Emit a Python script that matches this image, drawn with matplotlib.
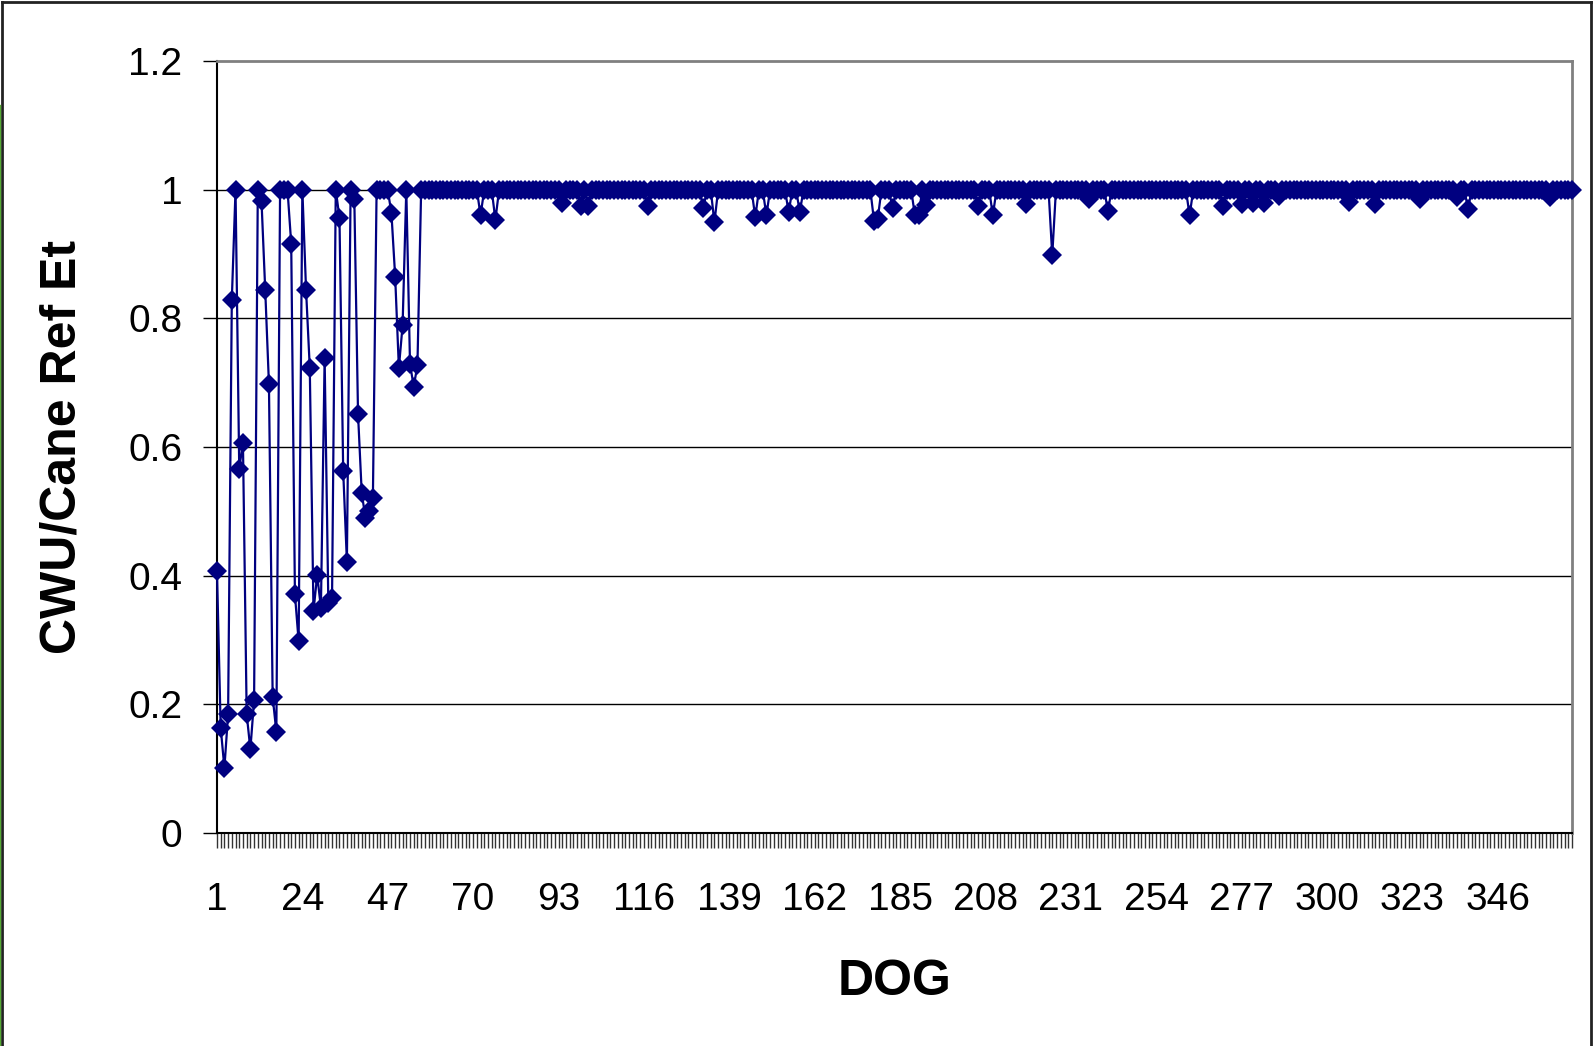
import matplotlib

matplotlib.use("Agg")
import matplotlib.pyplot as plt
from matplotlib.lines import Line2D

plt.rcParams["font.family"] = ["Liberation Sans", "DejaVu Sans"]

# values for DOG 1..55
early_vals = [
    0.408, 0.164, 0.101, 0.185, 0.829, 1.000, 0.566, 0.607, 0.185, 0.130,
    0.207, 1.000, 0.982, 0.844, 0.698, 0.212, 0.157, 1.000, 1.000, 1.000,
    0.916, 0.371, 0.298, 1.000, 0.844, 0.723, 0.345, 0.401, 0.350, 0.738,
    0.358, 0.366, 1.000, 0.956, 0.563, 0.422, 1.000, 0.985, 0.651, 0.528,
    0.490, 0.501, 0.520, 1.000, 1.000, 1.000, 1.000, 0.963, 0.865, 0.723,
    0.789, 1.000, 0.729, 0.694, 0.727,
]
# after DOG 55 the ratio sits at 1 except for these small dips
dip_dogs = [72, 76, 94, 99, 101, 117, 132, 135, 146, 149, 155, 158, 178, 179,
            183, 189, 190, 192, 206, 210, 219, 226, 236, 241, 263, 272, 277,
            280, 283, 287, 306, 313, 325, 335, 338, 360]
dip_vals = [0.960, 0.953, 0.979, 0.975, 0.975, 0.974, 0.971, 0.949, 0.957,
            0.960, 0.965, 0.965, 0.951, 0.955, 0.971, 0.960, 0.961, 0.976,
            0.974, 0.960, 0.978, 0.898, 0.985, 0.967, 0.960, 0.974, 0.978,
            0.979, 0.980, 0.990, 0.981, 0.978, 0.986, 0.988, 0.970, 0.988]
n_dogs = 366

dogs = list(range(1, n_dogs + 1))
ratio = early_vals + [1.0] * (n_dogs - len(early_vals))
for d, v in zip(dip_dogs, dip_vals):
    ratio[d - 1] = v

xtick_labels = list(range(1, n_dogs + 1, 23))
yticks = [0, 0.2, 0.4, 0.6, 0.8, 1.0, 1.2]

fig = plt.figure(figsize=(15.93, 10.46), dpi=100)
ax = fig.add_axes([0.1362, 0.2036, 0.8506, 0.7381])

ax.plot(dogs, ratio, color="#000080", lw=1.6, marker="D", markersize=10,
        markeredgewidth=0, zorder=3, clip_on=False)

ax.set_xlim(1, n_dogs)
ax.set_ylim(0, 1.2)
ax.set_yticks(yticks)
ax.set_yticklabels(["0", "0.2", "0.4", "0.6", "0.8", "1", "1.2"])
ax.set_xticks(xtick_labels)
ax.set_xticklabels([str(v) for v in xtick_labels])
ax.set_xticks(dogs, minor=True)

ax.tick_params(axis="y", direction="out", length=10, width=1, pad=15,
               labelsize=28, colors="black")
ax.tick_params(axis="x", which="both", direction="out", length=11, width=1,
               color="#333333", pad=24, labelsize=28)

for y in yticks[1:-1]:
    ax.axhline(y, color="black", lw=1, zorder=1)

ax.spines["left"].set_color("black")
ax.spines["left"].set_linewidth(1.5)
ax.spines["bottom"].set_color("black")
ax.spines["bottom"].set_linewidth(1.5)
for s in ["top", "right"]:
    ax.spines[s].set_color("#808080")
    ax.spines[s].set_linewidth(2)

ax.set_xlabel("DOG", fontsize=36, fontweight="bold", labelpad=30)
ax.set_ylabel("CWU/Cane Ref Et", fontsize=36, fontweight="bold")
ax.yaxis.set_label_coords(-0.097, 0.5)

# outer chart frame
fig.add_artist(Line2D([0.0015, 0.0015], [0, 0.998], color="#222222", lw=2,
                      transform=fig.transFigure))
fig.add_artist(Line2D([0.0003, 0.0003], [0, 0.9], color="#55aa33", lw=1,
                      transform=fig.transFigure))
fig.add_artist(Line2D([0.0015, 0.999], [0.998, 0.998], color="#222222", lw=2,
                      transform=fig.transFigure))
fig.add_artist(Line2D([0.999, 0.999], [0, 0.998], color="#222222", lw=2,
                      transform=fig.transFigure))

fig.savefig("out.png", dpi=100)
